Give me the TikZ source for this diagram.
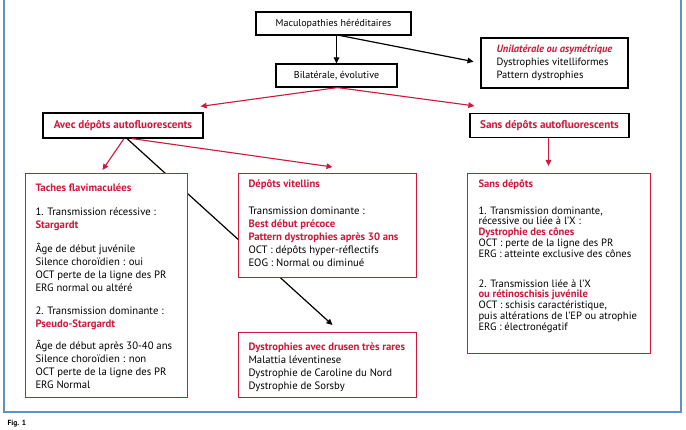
\documentclass[tikz,border=0pt]{standalone}
\usepackage{fontspec}
\setmainfont{PT Sans}
\usepackage{xcolor}
\usetikzlibrary{arrows.meta, positioning, backgrounds}
\definecolor{fred}{RGB}{206,24,60}
\definecolor{fblue}{RGB}{96,146,200}
\newcommand{\hl}[1]{\textcolor{fred}{\textbf{#1}}}
\newcommand{\boxbody}[3]{\parbox[t][#2][t]{#1}{#3}}

\begin{document}
\begin{tikzpicture}[x=1pt, y=-1pt, >={Triangle[length=6pt, width=5.5pt]},
		every node/.style={font=\fontsize{10}{13}\selectfont},
		bbox/.style={draw=black, line width=1.2pt, fill=white, inner sep=0pt},
		rbox/.style={draw=fred, line width=1pt, fill=white, anchor=north west, inner xsep=10pt, inner ysep=0pt, align=left,
			font=\fontsize{10.7}{13}\selectfont},
		blink/.style={->, line width=1.2pt},
		rlink/.style={->, fred, line width=1.1pt}]
		% page and frame
		\useasboundingbox (0,0) rectangle (686,430);
		\draw[fblue, line width=1.6pt] (4,-5) rectangle (681,412);
		\node[anchor=north west, font=\fontsize{7.5}{9}\selectfont\bfseries] (fig) at (4,417) {Fig. 1};

		% top of the tree
		\node[bbox, minimum width=155pt, minimum height=23pt] (mac) at (333.5,23.5) {Maculopathies héréditaires};
		\node[bbox, minimum width=121pt, minimum height=23pt] (bil) at (336.5,75.5) {Bilatérale, évolutive};
		\node[bbox, minimum width=147pt, minimum height=50pt, align=left, font=\fontsize{10.5}{13}\selectfont] (uni) at (554.5,63)
			{\textcolor{fred}{\textbf{\textit{Unilatérale ou asymétrique}}}\\Dystrophies vitelliformes\\Pattern dystrophies};
		\node[bbox, minimum width=160pt, minimum height=25pt, font=\fontsize{11.1}{13}\selectfont] (avec) at (123,125.5) {\hl{Avec dépôts autofluorescents}};
		\node[bbox, minimum width=159pt, minimum height=24pt, font=\fontsize{11.1}{13}\selectfont] (sans) at (549.5,125.5) {\hl{Sans dépôts autofluorescents}};

		% boxes of the second row
		\node[rbox] (taches) at (25,173) {\boxbody{142pt}{224pt}{\vspace*{10pt}%
			\hl{Taches flavimaculées}\\[11pt]
			1. Transmission récessive :\\
			\hl{Stargardt}\\[11pt]
			Âge de début juvénile\\
			Silence choroïdien : oui\\
			OCT perte de la ligne des PR\\
			ERG normal ou altéré\\[10pt]
			2. Transmission dominante :\\
			\hl{Pseudo-Stargardt}\\[9pt]
			Âge de début après 30-40 ans\\
			Silence choroïdien : non\\
			OCT perte de la ligne des PR\\
			ERG Normal}};
		\node[rbox] (vitel) at (238,173) {\boxbody{158pt}{104pt}{\vspace*{6pt}%
			\hl{Dépôts vitellins}\\[14pt]
			Transmission dominante :\\
			\hl{Best début précoce}\\
			\hl{Pattern dystrophies après 30 ans}\\
			OCT : dépôts hyper-réflectifs\\
			EOG : Normal ou diminué}};
		\node[rbox] (drusen) at (238,332) {\boxbody{158pt}{65pt}{\vspace*{10pt}%
			\hl{Dystrophies avec drusen très rares}\\
			Malattia léventinese\\
			Dystrophie de Caroline du Nord\\
			Dystrophie de Sorsby}};
		\node[rbox, inner xsep=11pt] (sansdep) at (467,173) {\boxbody{161pt}{180pt}{\fontsize{10.6}{10.8}\selectfont\vspace*{6pt}%
			\hl{Sans dépôts}\\[16pt]
			1. Transmission dominante,\\
			récessive ou liée à l’X :\\
			\hl{Dystrophie des cônes}\\
			OCT : perte de la ligne des PR\\
			ERG : atteinte exclusive des cônes\\[19pt]
			2. Transmission liée à l’X\\
			\hl{ou rétinoschisis juvénile}\\
			OCT : schisis caractéristique,\\
			puis altérations de l’EP ou atrophie\\
			ERG : électronégatif}};

		% free ends of the arrows
		\coordinate (avectip) at ([shift={(-3,-6)}]avec.north east);
		\coordinate (sanstip) at ([shift={(5,-7)}]sans.north west);
		\coordinate (tachtip) at ([shift={(-4,-3)}]taches.north);
		\coordinate (viteltip) at ([shift={(5,-6)}]vitel.north);
		\coordinate (drusentip) at ([shift={(5,-7)}]drusen.north);

		% connectors
		\draw[blink] (bil.north |- mac.south) -- (bil.north);
		\draw[blink, shorten >=7pt] ([xshift=7pt]mac.south) -- (uni.west);
		\draw[rlink] ([xshift=1pt]bil.south) -- (avectip);
		\draw[rlink] ([xshift=1pt]bil.south) -- (sanstip);
		\draw[rlink] ([xshift=1pt]avec.south) -- (tachtip);
		\draw[rlink] ([xshift=9pt]avec.south) -- (viteltip);
		\draw[rlink, shorten >=7pt] ([xshift=-1pt]sans.south) -- ([xshift=-1pt]sans.south |- sansdep.north);
		\begin{pgfonlayer}{background}
			\fill[white] (0,0) rectangle (686,430);
			\draw[blink] ([xshift=4pt]avec.south) -- (drusentip);
		\end{pgfonlayer}
	\end{tikzpicture}
\end{document}
